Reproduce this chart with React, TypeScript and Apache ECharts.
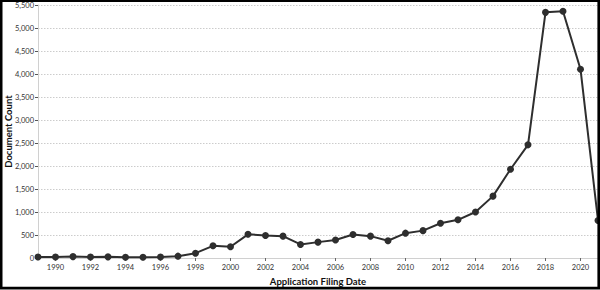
import React, { useEffect, useRef } from "react";
import * as echarts from "echarts";

const years: string[] = [
  "1989", "1990", "1991", "1992", "1993", "1994", "1995", "1996", "1997", "1998",
  "1999", "2000", "2001", "2002", "2003", "2004", "2005", "2006", "2007", "2008",
  "2009", "2010", "2011", "2012", "2013", "2014", "2015", "2016", "2017", "2018",
  "2019", "2020", "2021",
];
const documentCounts: number[] = [
  20, 20, 30, 20, 25, 15, 15, 20, 40, 105,
  265, 245, 515, 490, 475, 295, 345, 390, 510, 475,
  375, 540, 595, 755, 830, 1000, 1345, 1930, 2460, 5340,
  5365, 4105, 815,
];
const yMin = 0;
const yMax = 5500;
const yStep = 500;

const FONT = "Lato, 'Open Sans', sans-serif";

export default function App() {
  const ref = useRef<HTMLDivElement>(null);
  useEffect(() => {
    if (!ref.current) return;
    const chart = echarts.init(ref.current, undefined, { renderer: "svg" });
    const even = (_i: number, v: string) => Number(v) % 2 === 0;
    chart.setOption({
      animation: false,
      backgroundColor: "#ffffff",
      textStyle: { fontFamily: FONT },
      grid: { left: 38, right: 2, top: 5, bottom: 32, containLabel: false, outerBoundsMode: "none" },
      xAxis: {
        type: "category",
        data: years,
        boundaryGap: false,
        name: "Application Filing Date",
        nameLocation: "middle",
        nameGap: 18,
        nameMoveOverlap: false,
        nameTextStyle: { fontFamily: FONT, fontWeight: "bold", fontSize: 9.5, color: "#111" },
        axisLine: { lineStyle: { color: "#d0d0d0", width: 1 } },
        axisTick: { interval: even, length: 3, lineStyle: { color: "#666" } },
        axisLabel: { interval: even, fontSize: 7.5, color: "#333", margin: 5, fontFamily: FONT },
        splitLine: { show: false },
      },
      yAxis: {
        type: "value",
        min: yMin,
        max: yMax,
        interval: yStep,
        name: "Document Count",
        nameLocation: "middle",
        nameGap: 25,
        nameMoveOverlap: false,
        nameTextStyle: { fontFamily: FONT, fontWeight: "bold", fontSize: 9.5, color: "#111" },
        axisLine: { show: true, lineStyle: { color: "#d0d0d0", width: 1 } },
        axisTick: { show: true, length: 3, lineStyle: { color: "#555" } },
        axisLabel: {
          fontSize: 7.5,
          color: "#333",
          margin: 4,
          fontFamily: FONT,
          formatter: (v: number) => v.toLocaleString("en-US"),
        },
        splitLine: { lineStyle: { type: [1.5, 1.5], color: "#cccccc", width: 1 } },
      },
      series: [
        {
          type: "line",
          data: documentCounts,
          symbol: "circle",
          symbolSize: 7,
          lineStyle: { color: "#2e2e2e", width: 2 },
          itemStyle: { color: "#2e2e2e" },
        },
      ],
      graphic: [
        {
          type: "rect",
          z: 100,
          silent: true,
          shape: { x: 1.2, y: 0.8, width: 597.5, height: 287.3 },
          style: { fill: "none", stroke: "#000", lineWidth: 2.6 },
        },
      ],
    });
    return () => chart.dispose();
  }, []);
  return (
    <div
      ref={ref}
      style={{ position: "absolute", left: 0, top: 0, width: 600, height: 290 }}
    />
  );
}
